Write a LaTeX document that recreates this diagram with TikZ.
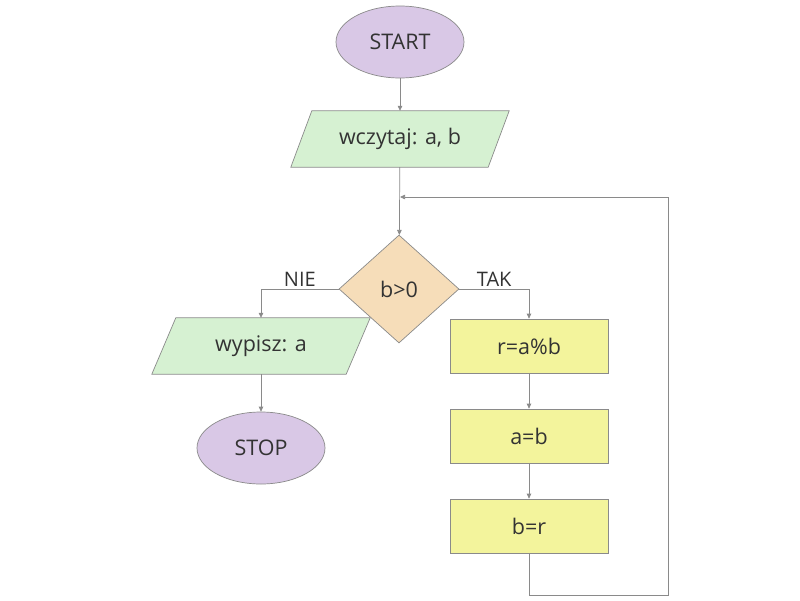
\documentclass[tikz,border=0pt]{standalone}
\usepackage{fontspec}
\setmainfont{Open Sans}
\usetikzlibrary{shapes.geometric,arrows.meta,backgrounds}
\definecolor{termfill}{HTML}{D9C8E6}
\definecolor{iofill}{HTML}{D6F1D2}
\definecolor{decfill}{HTML}{F6DDB9}
\definecolor{procfill}{HTML}{F3F49C}
\definecolor{edge}{HTML}{8A8A8A}
\definecolor{txt}{HTML}{333333}
\begin{document}
\begin{tikzpicture}[x=1pt,y=-1pt,
  every node/.style={font=\fontsize{21.5}{24}\selectfont, text=txt},
  base/.style={draw=edge, line width=0.7pt, inner sep=0pt},
  term/.style={base, ellipse, fill=termfill, minimum width=128pt, minimum height=72pt},
  io/.style={rectangle, inner sep=0pt, minimum width=218pt, minimum height=56pt},
  iobody/.style={draw=edge, line width=0.7pt, fill=iofill},
  decision/.style={base, diamond, fill=decfill, minimum width=120pt, minimum height=108pt, aspect=1.1},
  proc/.style={base, rectangle, fill=procfill, minimum width=158pt, minimum height=54pt},
  conn/.style={draw=edge, line width=0.7pt},
  arr/.style={conn, -{Triangle[length=5pt,width=4.5pt]}},
  lbl/.style={font=\fontsize{20}{24}\selectfont, inner sep=2pt}
]
\useasboundingbox (0,0) rectangle (800,600);
\node[term] (start) at (400,42) {START};
\node[io] (in) at (400,139) {wczytaj: a, b};
\coordinate (merge) at (400,197);
\node[decision] (dec) at (399,289) {b>0};
\node[io] (out) at (261,346) {wypisz: a};
\node[term] (stop) at (261,448) {STOP};
\node[proc] (p1) at (529,346) {r=a\%b};
\node[proc] (p2) at (529,436) {a=b};
\node[proc] (p3) at (529,526) {b=r};
\coordinate (lb) at (529,595);
\coordinate (rb) at (668,595);
\coordinate (rt) at (668,197);

\begin{scope}[on background layer]
  \foreach \n/\s in {in/21, out/24}{
    \path[iobody] ([xshift=\s pt]\n.north west) -- (\n.north east)
      -- ([xshift=-\s pt]\n.south east) -- (\n.south west) -- cycle;
  }
\end{scope}

\draw[arr] (start) -- (in);
\draw[arr] (in) -- (dec);
\draw[arr] (p3) -- (lb) -- (rb) -- (rt) -- (merge);
\draw[arr] (dec.west) -| node[lbl, pos=0.25, above] (nie) {NIE} (out.north);
\draw[arr] (dec.east) -| node[lbl, pos=0.25, above] (tak) {TAK} (p1.north);
\draw[arr] (out) -- (stop);
\draw[arr] (p1) -- (p2);
\draw[arr] (p2) -- (p3);
\end{tikzpicture}
\end{document}
